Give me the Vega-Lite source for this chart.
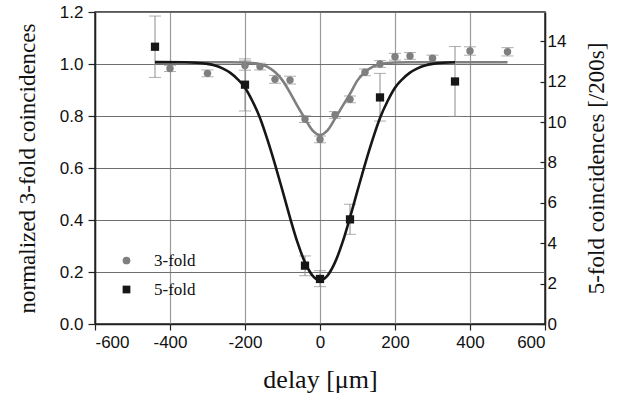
{
  "$schema": "https://vega.github.io/schema/vega-lite/v6.json",
  "width": 450,
  "height": 312,
  "autosize": "none",
  "padding": {"left": 95, "top": 12, "right": 78, "bottom": 75},
  "background": "white",
  "config": {
    "view": {"stroke": "#222", "strokeWidth": 1.5},
    "axis": {
      "labelFont": "Liberation Sans",
      "labelFontSize": 17,
      "labelColor": "#111",
      "titleFont": "Liberation Serif",
      "titleFontSize": 23,
      "titleFontWeight": "normal",
      "titleColor": "#111",
      "domainColor": "#222",
      "domainWidth": 1.5,
      "tickColor": "#222",
      "tickWidth": 1.2
    },
    "legend": {
      "orient": "none",
      "legendX": 23,
      "legendY": 240,
      "padding": 0,
      "labelFont": "Liberation Serif",
      "labelFontSize": 17,
      "labelColor": "#111",
      "labelOffset": 19,
      "rowPadding": 11,
      "symbolSize": 60,
      "symbolStrokeWidth": 0,
      "title": null
    }
  },
  "datasets": {
    "three": [
      {"series": "3-fold", "x": -400, "y": 0.983, "lo": 0.971, "hi": 0.995},
      {"series": "3-fold", "x": -300, "y": 0.964, "lo": 0.951, "hi": 0.977},
      {"series": "3-fold", "x": -200, "y": 0.994, "lo": 0.976, "hi": 1.012},
      {"series": "3-fold", "x": -160, "y": 0.990, "lo": 0.977, "hi": 1.003},
      {"series": "3-fold", "x": -120, "y": 0.941, "lo": 0.926, "hi": 0.956},
      {"series": "3-fold", "x": -80, "y": 0.938, "lo": 0.923, "hi": 0.953},
      {"series": "3-fold", "x": -40, "y": 0.788, "lo": 0.775, "hi": 0.801},
      {"series": "3-fold", "x": 0, "y": 0.710, "lo": 0.697, "hi": 0.723},
      {"series": "3-fold", "x": 40, "y": 0.804, "lo": 0.791, "hi": 0.817},
      {"series": "3-fold", "x": 80, "y": 0.864, "lo": 0.851, "hi": 0.877},
      {"series": "3-fold", "x": 120, "y": 0.968, "lo": 0.955, "hi": 0.981},
      {"series": "3-fold", "x": 160, "y": 1.000, "lo": 0.987, "hi": 1.013},
      {"series": "3-fold", "x": 200, "y": 1.028, "lo": 1.015, "hi": 1.041},
      {"series": "3-fold", "x": 240, "y": 1.031, "lo": 1.018, "hi": 1.044},
      {"series": "3-fold", "x": 300, "y": 1.022, "lo": 1.010, "hi": 1.034},
      {"series": "3-fold", "x": 400, "y": 1.050, "lo": 1.034, "hi": 1.066},
      {"series": "3-fold", "x": 500, "y": 1.047, "lo": 1.031, "hi": 1.063}
    ],
    "five": [
      {"series": "5-fold", "x": -440, "y": 13.73, "lo": 12.21, "hi": 15.25},
      {"series": "5-fold", "x": -200, "y": 11.85, "lo": 10.55, "hi": 13.13},
      {"series": "5-fold", "x": -40, "y": 2.89, "lo": 2.39, "hi": 3.37},
      {"series": "5-fold", "x": 0, "y": 2.23, "lo": 1.85, "hi": 2.64},
      {"series": "5-fold", "x": 80, "y": 5.18, "lo": 4.44, "hi": 5.93},
      {"series": "5-fold", "x": 160, "y": 11.22, "lo": 10.05, "hi": 12.41},
      {"series": "5-fold", "x": 360, "y": 12.01, "lo": 10.28, "hi": 13.74}
    ],
    "fit3": [
      {"x": -440, "y": 1.007}, {"x": -300, "y": 1.007}, {"x": -240, "y": 1.007},
      {"x": -200, "y": 1.006}, {"x": -180, "y": 1.004}, {"x": -160, "y": 0.999},
      {"x": -140, "y": 0.989}, {"x": -120, "y": 0.969}, {"x": -100, "y": 0.937},
      {"x": -80, "y": 0.89}, {"x": -60, "y": 0.838}, {"x": -40, "y": 0.79},
      {"x": -20, "y": 0.745}, {"x": 0, "y": 0.727}, {"x": 20, "y": 0.745},
      {"x": 40, "y": 0.79}, {"x": 60, "y": 0.838}, {"x": 80, "y": 0.885},
      {"x": 100, "y": 0.937}, {"x": 120, "y": 0.969}, {"x": 140, "y": 0.989},
      {"x": 160, "y": 0.999}, {"x": 180, "y": 1.004}, {"x": 200, "y": 1.006},
      {"x": 240, "y": 1.007}, {"x": 300, "y": 1.007}, {"x": 500, "y": 1.007}
    ],
    "fit5": [
      {"x": -440, "y": 12.97}, {"x": -360, "y": 12.96}, {"x": -330, "y": 12.94},
      {"x": -300, "y": 12.88}, {"x": -280, "y": 12.80}, {"x": -260, "y": 12.66},
      {"x": -240, "y": 12.45}, {"x": -220, "y": 12.13}, {"x": -200, "y": 11.70},
      {"x": -180, "y": 11.03}, {"x": -160, "y": 10.2}, {"x": -140, "y": 9.12},
      {"x": -120, "y": 7.91}, {"x": -100, "y": 6.60}, {"x": -80, "y": 5.27},
      {"x": -60, "y": 4.04}, {"x": -40, "y": 3.05}, {"x": -20, "y": 2.40},
      {"x": 0, "y": 2.18}, {"x": 20, "y": 2.40}, {"x": 40, "y": 3.05},
      {"x": 60, "y": 4.04}, {"x": 80, "y": 5.27}, {"x": 100, "y": 6.60},
      {"x": 120, "y": 7.91}, {"x": 140, "y": 9.12}, {"x": 160, "y": 10.2},
      {"x": 180, "y": 11.03}, {"x": 200, "y": 11.70}, {"x": 220, "y": 12.13},
      {"x": 240, "y": 12.45}, {"x": 260, "y": 12.66}, {"x": 280, "y": 12.80},
      {"x": 300, "y": 12.88}, {"x": 330, "y": 12.94}, {"x": 360, "y": 12.96}
    ]
  },
  "layer": [
    {
      "layer": [
        {
          "data": {"name": "three"},
          "mark": {"type": "rule", "color": "#8c8c8c", "strokeWidth": 1},
          "encoding": {
            "x": {
              "field": "x", "type": "quantitative",
              "scale": {"domain": [-600, 600], "nice": false},
              "title": "delay [μm]",
              "axis": {
                "values": [-600, -500, -400, -300, -200, -100, 0, 100, 200, 300, 400, 500, 600],
                "labelExpr": "abs(datum.value) % 200 == 0 ? '' + datum.value : ''",
                "tickSize": {"condition": {"test": "abs(datum.value) % 200 == 0", "value": 6}, "value": 4},
                "grid": true,
                "gridColor": "#9a9a9a",
                "gridWidth": 1.2,
                "gridOpacity": {"condition": {"test": "abs(datum.value) % 200 == 0", "value": 1}, "value": 0},
                "labelPadding": 4,
                "titleFontSize": 26,
                "titlePadding": 16
              }
            },
            "y": {
              "field": "lo", "type": "quantitative",
              "scale": {"domain": [0, 1.2], "nice": false},
              "title": "normalized 3-fold coincidences",
              "axis": {
                "values": [0, 0.1, 0.2, 0.3, 0.4, 0.5, 0.6, 0.7, 0.8, 0.9, 1.0, 1.1, 1.2],
                "labelExpr": "round(datum.value * 10) % 2 == 0 ? format(datum.value, '.1f') : ''",
                "tickSize": {"condition": {"test": "round(datum.value * 10) % 2 == 0", "value": 7}, "value": 4},
                "grid": true,
                "gridColor": "#6e6e6e",
                "gridWidth": 1.2,
                "gridOpacity": {"condition": {"test": "round(datum.value * 10) % 2 == 0", "value": 1}, "value": 0},
                "labelPadding": 5,
                "titlePadding": 20
              }
            },
            "y2": {"field": "hi"}
          }
        },
        {
          "data": {"name": "three"},
          "mark": {"type": "tick", "orient": "horizontal", "color": "#8c8c8c", "size": 12, "thickness": 1},
          "encoding": {
            "x": {"field": "x", "type": "quantitative", "scale": {"domain": [-600, 600], "nice": false}},
            "y": {"field": "lo", "type": "quantitative", "scale": {"domain": [0, 1.2], "nice": false}}
          }
        },
        {
          "data": {"name": "three"},
          "mark": {"type": "tick", "orient": "horizontal", "color": "#8c8c8c", "size": 12, "thickness": 1},
          "encoding": {
            "x": {"field": "x", "type": "quantitative", "scale": {"domain": [-600, 600], "nice": false}},
            "y": {"field": "hi", "type": "quantitative", "scale": {"domain": [0, 1.2], "nice": false}}
          }
        },
        {
          "data": {"name": "fit3"},
          "mark": {"type": "line", "color": "#7f7f7f", "strokeWidth": 2.6, "interpolate": "monotone"},
          "encoding": {
            "x": {"field": "x", "type": "quantitative", "scale": {"domain": [-600, 600], "nice": false}},
            "y": {"field": "y", "type": "quantitative", "scale": {"domain": [0, 1.2], "nice": false}}
          }
        },
        {
          "data": {"name": "three"},
          "mark": {"type": "point", "filled": true, "opacity": 1, "size": 55},
          "encoding": {
            "x": {"field": "x", "type": "quantitative", "scale": {"domain": [-600, 600], "nice": false}},
            "y": {"field": "y", "type": "quantitative", "scale": {"domain": [0, 1.2], "nice": false}},
            "color": {"field": "series", "type": "nominal", "scale": {"domain": ["3-fold", "5-fold"], "range": ["#7f7f7f", "#161616"]}},
            "shape": {"field": "series", "type": "nominal", "scale": {"domain": ["3-fold", "5-fold"], "range": ["circle", "square"]}}
          }
        }
      ]
    },
    {
      "layer": [
        {
          "data": {"name": "five"},
          "mark": {"type": "rule", "color": "#8c8c8c", "strokeWidth": 1},
          "encoding": {
            "x": {"field": "x", "type": "quantitative", "scale": {"domain": [-600, 600], "nice": false}},
            "y": {
              "field": "lo", "type": "quantitative",
              "scale": {"domain": [0, 15.45], "nice": false},
              "title": "5-fold coincidences [/200s]",
              "axis": {
                "orient": "right",
                "values": [0, 1, 2, 3, 4, 5, 6, 7, 8, 9, 10, 11, 12, 13, 14, 15],
                "labelExpr": "datum.value % 2 == 0 ? '' + datum.value : ''",
                "tickSize": {"condition": {"test": "datum.value % 2 == 0", "value": -5}, "value": -3},
                "grid": false,
                "labelPadding": 7,
                "titleAngle": 270,
                "titleBaseline": "top",
                "titlePadding": 20
              }
            },
            "y2": {"field": "hi"}
          }
        },
        {
          "data": {"name": "five"},
          "mark": {"type": "tick", "orient": "horizontal", "color": "#8c8c8c", "size": 12, "thickness": 1},
          "encoding": {
            "x": {"field": "x", "type": "quantitative", "scale": {"domain": [-600, 600], "nice": false}},
            "y": {"field": "lo", "type": "quantitative", "scale": {"domain": [0, 15.45], "nice": false}}
          }
        },
        {
          "data": {"name": "five"},
          "mark": {"type": "tick", "orient": "horizontal", "color": "#8c8c8c", "size": 12, "thickness": 1},
          "encoding": {
            "x": {"field": "x", "type": "quantitative", "scale": {"domain": [-600, 600], "nice": false}},
            "y": {"field": "hi", "type": "quantitative", "scale": {"domain": [0, 15.45], "nice": false}}
          }
        },
        {
          "data": {"name": "fit5"},
          "mark": {"type": "line", "color": "#161616", "strokeWidth": 2.6, "interpolate": "monotone"},
          "encoding": {
            "x": {"field": "x", "type": "quantitative", "scale": {"domain": [-600, 600], "nice": false}},
            "y": {"field": "y", "type": "quantitative", "scale": {"domain": [0, 15.45], "nice": false}}
          }
        },
        {
          "data": {"name": "five"},
          "mark": {"type": "point", "filled": true, "opacity": 1, "size": 68},
          "encoding": {
            "x": {"field": "x", "type": "quantitative", "scale": {"domain": [-600, 600], "nice": false}},
            "y": {"field": "y", "type": "quantitative", "scale": {"domain": [0, 15.45], "nice": false}},
            "color": {"field": "series", "type": "nominal", "scale": {"domain": ["3-fold", "5-fold"], "range": ["#7f7f7f", "#161616"]}},
            "shape": {"field": "series", "type": "nominal", "scale": {"domain": ["3-fold", "5-fold"], "range": ["circle", "square"]}}
          }
        }
      ]
    }
  ],
  "resolve": {"scale": {"y": "independent"}, "axis": {"y": "independent"}}
}
